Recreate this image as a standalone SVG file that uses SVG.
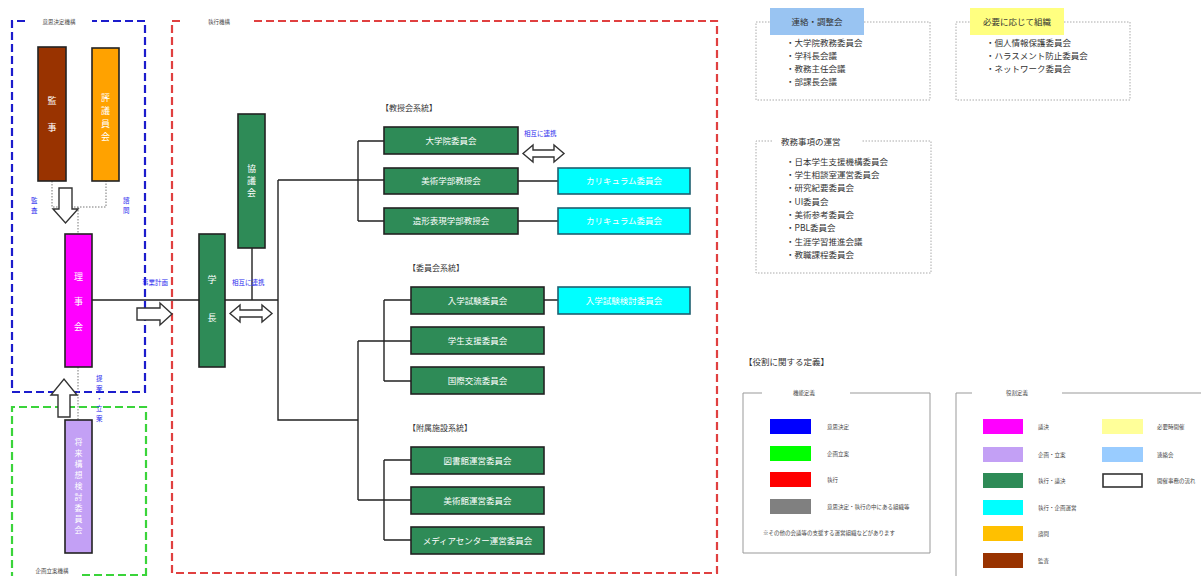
<svg xmlns="http://www.w3.org/2000/svg" width="1201" height="576" viewBox="0 0 1201 576">
<style>
text{font-family:"Noto Sans CJK JP","Noto Sans CJK SC",sans-serif}
.bx{stroke:#222;stroke-width:1.6}
.g{fill:#2e8b57}
.c{fill:#00ffff;stroke:#1f6070}
.wt{fill:#fff;font-size:8.5px;text-anchor:middle}
.vt{fill:#fff;font-size:9px;text-anchor:middle}
.lbl{fill:#2a2aee;font-size:6.5px}
.hd{fill:#333;font-size:8px}
.it{fill:#333;font-size:8.5px}
.sm{fill:#444;font-size:5.5px}
.ln{stroke:#222;stroke-width:1.4;fill:none}
.dot{stroke:#777;stroke-width:1;stroke-dasharray:1.5,1.5;fill:none}
.hol{fill:#fff;stroke:#333;stroke-width:1.4}
.dbox{fill:none;stroke:#aaa;stroke-width:1;stroke-dasharray:1.5,1.5}
.lg{fill:none;stroke:#999;stroke-width:1}
</style>
<rect width="1201" height="576" fill="#fff"/>

<!-- organisation frames -->
<g id="frames" fill="none" stroke-width="2.2">
  <path d="M25,21 H12 V392 H145 V21 H92" stroke="#1c1ccc" stroke-dasharray="8,4"/>
  <path d="M180,21 H172 V573 H717 V21 H252" stroke="#e04040" stroke-dasharray="8,4"/>
  <path d="M12,580 V407 H146 V580" stroke="#3ad43a" stroke-dasharray="8,4"/>
  <path d="M82,575 H146" stroke="#3ad43a" stroke-dasharray="8,4"/>
  <text x="59" y="23.5" class="sm" text-anchor="middle">意思決定機構</text>
  <text x="219" y="23.5" class="sm" text-anchor="middle">執行機構</text>
  <text x="52" y="573" class="sm" text-anchor="middle">企画立案機構</text>
</g>

<!-- connectors -->
<g id="connectors">
  <path class="dot" d="M52,181 V207 H106 V181 M78,207 V234 M78,367 V420"/>
  <path class="ln" d="M92,300 H278 M252,248 V300 M278,180 V420 H358 M278,180 H384 M358,141 V221 M358,141 H384 M358,221 H384 M518,181 H558 M518,221 H558"/>
  <path class="ln" d="M358,341 V500 M358,341 H411 M384,300 V381 M384,300 H411 M384,381 H411 M544,300 H558"/>
  <path class="ln" d="M358,500 H411 M384,460 V540 M384,460 H411 M384,540 H411"/>
  <path class="hol" d="M59,188 H72 V209 H78 L65.5,223 L53,209 H59 Z"/>
  <path class="hol" d="M58,417 H70 V395 H77 L64,379 L51,395 H58 Z"/>
  <path class="hol" d="M137,308 H160 V303 L172,314 L160,325 V320 H137 Z"/>
  <path class="hol" d="M230,313.5 L240,305 V310 H262 V305 L272,313.5 L262,322 V317 H240 V322 Z"/>
  <path class="hol" d="M523,153.5 L533,145 V150 H554 V145 L564,153.5 L554,162 V157 H533 V162 Z"/>
  <text class="lbl" x="31" y="203">監</text><text class="lbl" x="31" y="213">査</text>
  <text class="lbl" x="123" y="203">諮</text><text class="lbl" x="123" y="213">問</text>
  <text class="lbl" x="96" y="381">提</text><text class="lbl" x="96" y="391">案</text><text class="lbl" x="96" y="401">・</text><text class="lbl" x="96" y="411">立</text><text class="lbl" x="96" y="421">案</text>
  <text class="lbl" x="142" y="285">事業計画</text>
  <text class="lbl" x="232" y="285">相互に連携</text>
  <text class="lbl" x="524" y="136">相互に連携</text>
</g>

<!-- governing nodes -->
<g id="kanji">
  <rect class="bx" x="38" y="47" width="28" height="134" fill="#993300"/>
  <text class="vt" x="52"><tspan x="52" y="104">監</tspan><tspan x="52" y="131">事</tspan></text>
</g>
<g id="hyogiinkai">
  <rect class="bx" x="92" y="48" width="27" height="133" fill="#ffa200"/>
  <text class="vt" x="105.5"><tspan x="105.5" y="101">評</tspan><tspan x="105.5" y="114">議</tspan><tspan x="105.5" y="127">員</tspan><tspan x="105.5" y="140">会</tspan></text>
</g>
<g id="rijikai">
  <rect class="bx" x="65" y="234" width="27" height="133" fill="#ff00ff"/>
  <text class="vt" x="78.5"><tspan x="78.5" y="280">理</tspan><tspan x="78.5" y="305">事</tspan><tspan x="78.5" y="330">会</tspan></text>
</g>
<g id="kikaku">
  <rect class="bx" x="65" y="420" width="27" height="133" fill="#c3a0f5"/>
  <text class="vt" x="78.5" style="font-size:8px"><tspan x="78.5" y="445">将</tspan><tspan x="78.5" y="456">来</tspan><tspan x="78.5" y="467">構</tspan><tspan x="78.5" y="478">想</tspan><tspan x="78.5" y="489">検</tspan><tspan x="78.5" y="500">討</tspan><tspan x="78.5" y="511">委</tspan><tspan x="78.5" y="522">員</tspan><tspan x="78.5" y="533">会</tspan></text>
</g>
<g id="gakucho">
  <rect class="bx g" x="199" y="234" width="26" height="133"/>
  <text class="vt" x="212"><tspan x="212" y="283">学</tspan><tspan x="212" y="321">長</tspan></text>
</g>
<g id="kyogikai">
  <rect class="bx g" x="238" y="114" width="27" height="134"/>
  <text class="vt" x="251.5"><tspan x="251.5" y="172">協</tspan><tspan x="251.5" y="184">議</tspan><tspan x="251.5" y="196">会</tspan></text>
</g>

<!-- 教授会系統 -->
<text class="hd" x="381" y="111">【教授会系統】</text>
<g id="daigakuin"><rect class="bx g" x="384" y="127" width="134" height="27"/><text class="wt" x="451" y="143.5">大学院委員会</text></g>
<g id="bijutsu-kyojukai"><rect class="bx g" x="384" y="168" width="134" height="26"/><text class="wt" x="451" y="184">美術学部教授会</text></g>
<g id="zokei-kyojukai"><rect class="bx g" x="384" y="208" width="134" height="26"/><text class="wt" x="451" y="224">造形表現学部教授会</text></g>
<g id="curriculum1"><rect class="bx c" x="558" y="168" width="132" height="26"/><text class="wt" x="624" y="184">カリキュラム委員会</text></g>
<g id="curriculum2"><rect class="bx c" x="558" y="208" width="132" height="26"/><text class="wt" x="624" y="224">カリキュラム委員会</text></g>

<!-- 委員会系統 -->
<text class="hd" x="408" y="271">【委員会系統】</text>
<g id="nyushi"><rect class="bx g" x="411" y="287" width="133" height="27"/><text class="wt" x="477.5" y="303.5">入学試験委員会</text></g>
<g id="nyushi-kento"><rect class="bx c" x="558" y="287" width="132" height="27"/><text class="wt" x="624" y="303.5">入学試験検討委員会</text></g>
<g id="gakusei"><rect class="bx g" x="411" y="327" width="133" height="27"/><text class="wt" x="477.5" y="343.5">学生支援委員会</text></g>
<g id="kokusai"><rect class="bx g" x="411" y="367" width="133" height="27"/><text class="wt" x="477.5" y="383.5">国際交流委員会</text></g>

<!-- 附属施設系統 -->
<text class="hd" x="408" y="431">【附属施設系統】</text>
<g id="toshokan"><rect class="bx g" x="411" y="447" width="133" height="27"/><text class="wt" x="477.5" y="463.5">図書館運営委員会</text></g>
<g id="bijutsukan"><rect class="bx g" x="411" y="487" width="133" height="27"/><text class="wt" x="477.5" y="503.5">美術館運営委員会</text></g>
<g id="media"><rect class="bx g" x="411" y="527" width="133" height="27"/><text class="wt" x="477.5" y="543.5">メディアセンター運営委員会</text></g>

<!-- right panel -->
<g id="renraku">
  <rect class="dbox" x="756" y="22" width="174" height="78"/>
  <rect x="770" y="8" width="94" height="27" fill="#99c4f2"/>
  <text class="it" x="817" y="25" text-anchor="middle">連絡・調整会</text>
  <text class="it" x="786" y="46">・大学院教務委員会</text>
  <text class="it" x="786" y="59">・学科長会議</text>
  <text class="it" x="786" y="72">・教務主任会議</text>
  <text class="it" x="786" y="85">・部課長会議</text>
</g>
<g id="hitsuyo">
  <rect class="dbox" x="956" y="22" width="174" height="78"/>
  <rect x="970" y="8" width="94" height="27" fill="#ffff80"/>
  <text class="it" x="1017" y="25" text-anchor="middle">必要に応じて組織</text>
  <text class="it" x="986" y="46">・個人情報保護委員会</text>
  <text class="it" x="986" y="59">・ハラスメント防止委員会</text>
  <text class="it" x="986" y="72">・ネットワーク委員会</text>
</g>
<g id="kyomu">
  <path class="dbox" d="M772,141 H756 V273 H931 V141 H862"/>
  <text class="it" x="781" y="145">教務事項の運営</text>
  <text class="it" x="786" y="165">・日本学生支援機構委員会</text>
  <text class="it" x="786" y="178">・学生相談室運営委員会</text>
  <text class="it" x="786" y="191">・研究紀要委員会</text>
  <text class="it" x="786" y="205">・UI委員会</text>
  <text class="it" x="786" y="218">・美術参考委員会</text>
  <text class="it" x="786" y="231">・PBL委員会</text>
  <text class="it" x="786" y="245">・生涯学習推進会議</text>
  <text class="it" x="786" y="258">・教職課程委員会</text>
</g>

<!-- legend -->
<g id="legend">
  <text class="it" x="744" y="365">【役割に関する定義】</text>
  <path class="lg" d="M762,393 H743 V553 H930 V393 H850"/>
  <text class="sm" x="804" y="395" text-anchor="middle">機能定義</text>
  <rect x="770" y="419" width="41" height="15" fill="#0000ff"/>
  <rect x="770" y="446" width="41" height="15" fill="#00ff00"/>
  <rect x="770" y="472" width="41" height="15" fill="#ff0000"/>
  <rect x="770" y="499" width="41" height="15" fill="#808080"/>
  <text class="sm" x="827" y="429">意思決定</text>
  <text class="sm" x="827" y="456">企画立案</text>
  <text class="sm" x="827" y="482">執行</text>
  <text class="sm" x="827" y="509">意思決定・執行の中にある組織等</text>
  <text class="sm" x="763" y="535">※その他の会議等の支援する運営組織などがあります</text>

  <path class="lg" d="M972,393 H956 V576 M1062,393 H1201"/>
  <text class="sm" x="1017" y="395" text-anchor="middle">役割定義</text>
  <rect x="983" y="419" width="40" height="15" fill="#ff00ff"/>
  <rect x="983" y="447" width="40" height="15" fill="#c3a0f5"/>
  <rect x="983" y="473" width="40" height="15" fill="#2e8b57"/>
  <rect x="983" y="500" width="40" height="15" fill="#00ffff"/>
  <rect x="983" y="526" width="40" height="15" fill="#ffc000"/>
  <rect x="983" y="553" width="40" height="15" fill="#993300"/>
  <text class="sm" x="1038" y="429">議決</text>
  <text class="sm" x="1038" y="457">企画・立案</text>
  <text class="sm" x="1038" y="483">執行・議決</text>
  <text class="sm" x="1038" y="510">執行・企画運営</text>
  <text class="sm" x="1038" y="536">諮問</text>
  <text class="sm" x="1038" y="563">監査</text>
  <rect x="1102" y="419" width="41" height="15" fill="#ffff99"/>
  <rect x="1102" y="447" width="41" height="15" fill="#99ccff"/>
  <rect x="1103" y="474" width="39" height="13" fill="#fff" stroke="#333" stroke-width="1.6"/>
  <text class="sm" x="1157" y="429">必要時開催</text>
  <text class="sm" x="1157" y="457">連絡会</text>
  <text class="sm" x="1157" y="483">開催事務の流れ</text>
</g>
</svg>
